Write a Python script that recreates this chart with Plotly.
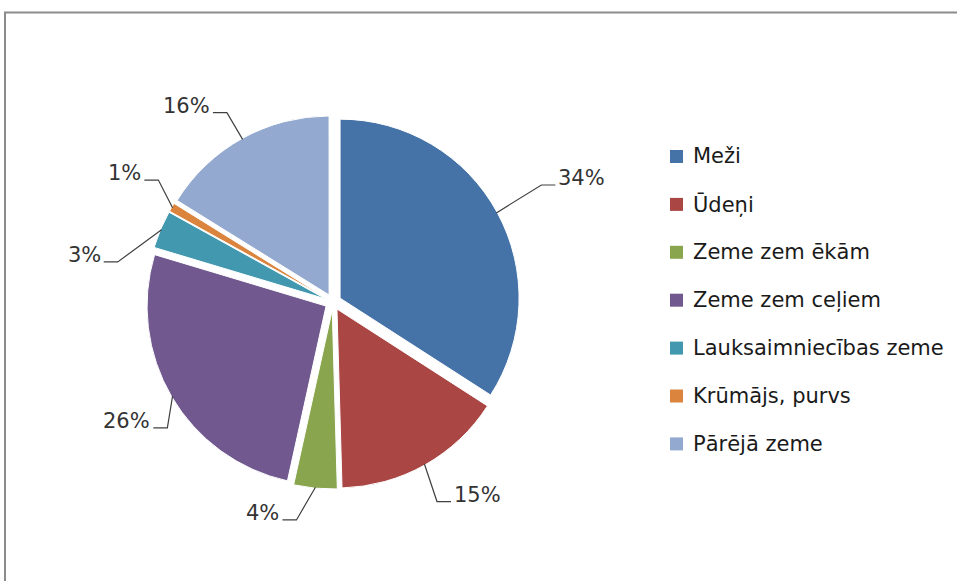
import math
import plotly.graph_objects as go

# ---- data ----
categories = ["Meži", "Ūdeņi", "Zeme zem ēkām", "Zeme zem ceļiem",
              "Lauksaimniecības zeme", "Krūmājs, purvs", "Pārējā zeme"]
shares = [34.0, 15.4, 3.9, 26.1, 3.4, 0.8, 16.1]

# ---- style ----
colors = ["#4572A7", "#AA4643", "#89A54E", "#71588F", "#4198AF", "#DB843D", "#93A9CF"]
FONT = "DejaVu Sans"
W, H = 957, 581
CX, CY = 333, 302          # pie centre (px)
R = 179                    # pie radius (px)
PULL = 0.045               # explosion of every slice
BOX = 2 * R * (1 + PULL)
# data-label placement tweaks: (angle shift in degrees, elbow radius in px)
label_adjust = [(-0.7, 239), (1.9, 225), (4.1, 221), (-6.8, 208),
                (-12.3, 219), (4.5, 213), (-0.2, 217)]


def px(x, y):
    return x / W, 1 - y / H


fig = go.Figure(go.Pie(
    labels=categories, values=shares,
    marker=dict(colors=colors, line=dict(color="white", width=1)),
    pull=PULL, sort=False, direction="clockwise", rotation=0,
    textinfo="none", hoverinfo="label+percent", showlegend=False,
    domain=dict(x=[(CX - BOX / 2) / W, (CX + BOX / 2) / W],
                y=[1 - (CY + BOX / 2) / H, 1 - (CY - BOX / 2) / H]),
))

shapes = []
annotations = []

# data labels with leader lines
total = sum(shares)
cum = 0.0
for v, (shift, rl) in zip(shares, label_adjust):
    mid = (cum + v / 2) / total * 360
    cum += v
    a = math.radians(mid)
    sx = CX + (R * (1 + PULL) - 1) * math.sin(a)
    sy = CY - (R * (1 + PULL) - 1) * math.cos(a)
    b = math.radians(mid + shift)
    ex = CX + rl * math.sin(b)
    ey = CY - rl * math.cos(b)
    sgn = 1 if math.sin(b) > 0 else -1
    hx = ex + sgn * 14
    p0, p1, p2 = px(sx, sy), px(ex, ey), px(hx, ey)
    shapes.append(dict(type="path", xref="paper", yref="paper",
                       path=f"M{p0[0]},{p0[1]} L{p1[0]},{p1[1]} L{p2[0]},{p2[1]}",
                       line=dict(color="#404040", width=1.2)))
    tx, ty = px(hx + sgn * 1, ey - 7)
    annotations.append(dict(x=tx, y=ty, xref="paper", yref="paper",
                            text=f"{round(v / total * 100)}%", showarrow=False,
                            xanchor="left" if sgn > 0 else "right", yanchor="middle",
                            font=dict(family=FONT, size=21, color="#333333")))

# legend (drawn manually to match spacing)
LEG_X, LEG_Y0, LEG_DY, SQ = 670, 156.5, 47.9, 13
for i, (name, col) in enumerate(zip(categories, colors)):
    yc = LEG_Y0 + i * LEG_DY
    x0, y0 = px(LEG_X, yc - SQ / 2)
    x1, y1 = px(LEG_X + SQ, yc + SQ / 2)
    shapes.append(dict(type="rect", xref="paper", yref="paper",
                       x0=x0, x1=x1, y0=y0, y1=y1,
                       fillcolor=col, line=dict(width=0)))
    tx, ty = px(LEG_X + SQ + 8, yc)
    annotations.append(dict(x=tx, y=ty, xref="paper", yref="paper", text=name,
                            showarrow=False, xanchor="left", yanchor="middle",
                            font=dict(family=FONT, size=21, color="#1a1a1a")))

# chart frame (left and top edges)
f0, f1, f2 = px(5, H), px(5, 12.5), px(W, 12.5)
shapes.append(dict(type="path", xref="paper", yref="paper",
                   path=f"M{f0[0]},{f0[1]} L{f1[0]},{f1[1]} L{f2[0]},{f2[1]}",
                   line=dict(color="#8c8c8c", width=2)))

fig.update_layout(
    width=W, height=H,
    margin=dict(l=0, r=0, t=0, b=0),
    paper_bgcolor="white", plot_bgcolor="white",
    shapes=shapes, annotations=annotations,
    font=dict(family=FONT),
)

fig.write_html("out.html",
               config={"displayModeBar": False},
               post_script="document.body.style.margin='0';document.body.style.overflow='hidden';")
